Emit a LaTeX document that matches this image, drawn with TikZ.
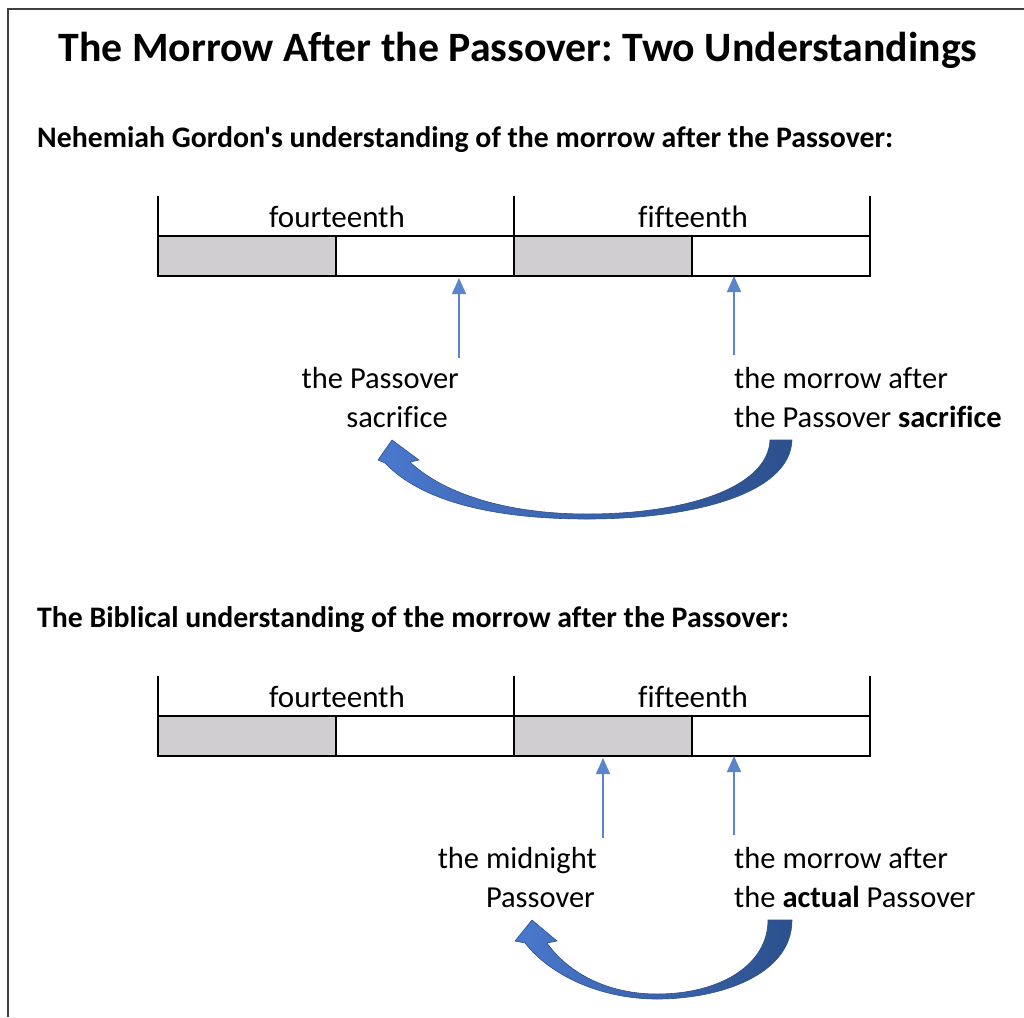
\documentclass[tikz,border=0pt]{standalone}
\usepackage{fontspec}
\setmainfont{Carlito}[Ligatures={TeXOff,NoCommon}]
\usetikzlibrary{arrows.meta}
\frenchspacing

\definecolor{daygray}{RGB}{208,206,208}
\definecolor{ptrblue}{RGB}{90,132,206}
\definecolor{bandlight}{RGB}{74,120,204}
\definecolor{banddark}{RGB}{44,80,140}
\definecolor{framegray}{RGB}{64,64,64}

\tikzset{
  cell/.style={draw=black, line width=1.6, minimum width=178, minimum height=40,
               inner sep=0, outer sep=0},
  tick/.style={draw=black, line width=1.6},
  dayname/.style={font=\fontsize{31}{36}\selectfont, inner sep=0, anchor=base},
  lbl/.style={font=\fontsize{30.5}{36}\selectfont, inner sep=0},
  heading/.style={font=\fontsize{29.8}{34}\selectfont\bfseries, inner sep=0, anchor=base west},
  ptr/.style={draw=ptrblue, line width=1.5, -{Triangle[width=14,length=16]}},
  band/.style={left color=bandlight, right color=banddark, draw=banddark, line width=0.6},
}

\begin{document}
\begin{tikzpicture}[x=1pt,y=-1pt]
\useasboundingbox (0,0) rectangle (1024,1017);

% outer frame (runs off the right and bottom edges)
\draw[framegray, line width=2] (8,1017) -- (8,9) -- (1024,9);

% title
\node[font=\fontsize{41.8}{48}\selectfont\bfseries, inner sep=0, anchor=base] (title)
  at (518,61) {The Morrow After the Passover: Two Understandings};

% ---------- first understanding ----------
\node[heading] (h1) at (37,147) {Nehemiah Gordon's understanding of the morrow after the Passover:};

\node[cell, fill=daygray] (a14n) at (247,256) {};
\node[cell]               (a14d) at (425,256) {};
\node[cell, fill=daygray] (a15n) at (603,256) {};
\node[cell]               (a15d) at (781,256) {};
\draw[tick] (a14n.south west) -- ++(0,-80);
\draw[tick] (a15n.south west) -- ++(0,-80);
\draw[tick] (a15d.south east) -- ++(0,-80);
\node[dayname] (a14) at (337,227) {fourteenth};
\node[dayname] (a15) at (693,227) {fifteenth};

\node[lbl, anchor=base east] (apa) at (459,388) {the Passover};
\node[lbl, anchor=base east] (apb) at (448,427) {sacrifice};
\node[lbl, anchor=base west] (ama) at (734,388) {the morrow after};
\node[lbl, anchor=base west] (amb) at (734,427) {the Passover \textbf{sacrifice}};

\coordinate (ap0) at (459,358);
\coordinate (ap1) at (459,278);
\coordinate (am0) at (734,355);
\coordinate (am1) at (734,276);
\draw[ptr] (ap0) -- (ap1);
\draw[ptr] (am0) -- (am1);

% curved arrow: morrow -> sacrifice
\shade[band] (770,440) -- (792,440)
  .. controls (790,495) and (690,519) .. (587,519)
  .. controls (490,519) and (420,500) .. (385,463)
  -- (378,460) -- (392,440) -- (419,460) -- (410,462)
  .. controls (445,495) and (510,514) .. (587,514)
  .. controls (685,514) and (768,488) .. (770,440) -- cycle;

% ---------- second understanding ----------
\node[heading] (h2) at (37,627) {The Biblical understanding of the morrow after the Passover:};

\node[cell, fill=daygray] (b14n) at (247,736) {};
\node[cell]               (b14d) at (425,736) {};
\node[cell, fill=daygray] (b15n) at (603,736) {};
\node[cell]               (b15d) at (781,736) {};
\draw[tick] (b14n.south west) -- ++(0,-80);
\draw[tick] (b15n.south west) -- ++(0,-80);
\draw[tick] (b15d.south east) -- ++(0,-80);
\node[dayname] (b14) at (337,707) {fourteenth};
\node[dayname] (b15) at (693,707) {fifteenth};

\node[lbl, anchor=base east] (bpa) at (597,868) {the midnight};
\node[lbl, anchor=base east] (bpb) at (595,907) {Passover};
\node[lbl, anchor=base west] (bma) at (734,868) {the morrow after};
\node[lbl, anchor=base west] (bmb) at (734,907) {the \textbf{actual} Passover};

\coordinate (bp0) at (603,838);
\coordinate (bp1) at (603,758);
\coordinate (bm0) at (734,835);
\coordinate (bm1) at (734,756);
\draw[ptr] (bp0) -- (bp1);
\draw[ptr] (bm0) -- (bm1);

% curved arrow: morrow -> midnight Passover
\shade[band] (768,920) -- (792,920)
  .. controls (792,975) and (720,999) .. (657,999)
  .. controls (600,999) and (550,975) .. (525,943)
  -- (515,941) -- (532,920) -- (557,941) -- (547,943)
  .. controls (570,975) and (610,994) .. (657,994)
  .. controls (720,994) and (768,965) .. (768,920) -- cycle;

\end{tikzpicture}
\end{document}
